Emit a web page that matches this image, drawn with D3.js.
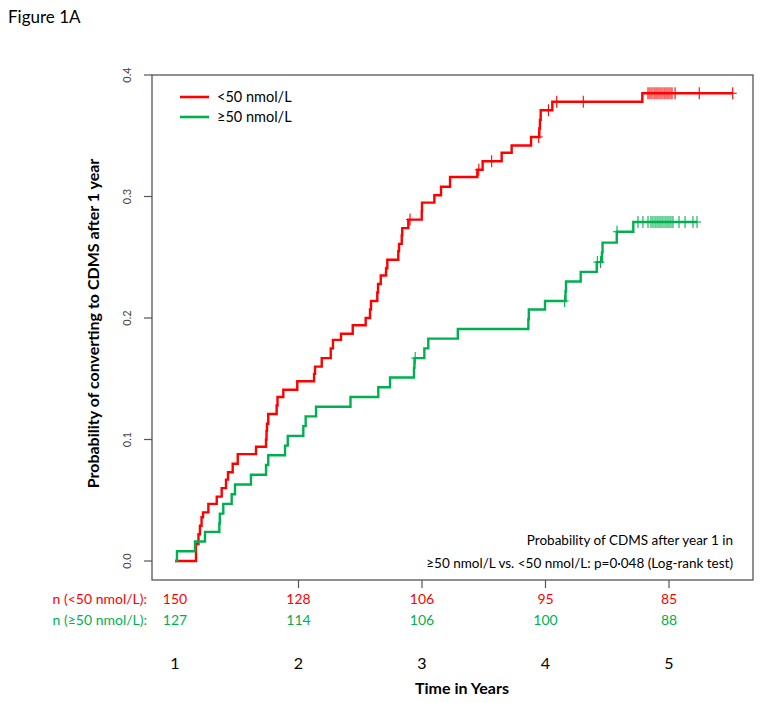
<!DOCTYPE html>
<html>
<head>
<meta charset="utf-8">
<script src="https://cdn.jsdelivr.net/npm/d3@7"></script>
<style>
  body { margin: 0; background: #fff; }
  text { font-family: Lato, "Open Sans", sans-serif; }
</style>
</head>
<body>
<script>
// event times (years) and cumulative probability after each event
var redTimes = [1.170,1.190,1.202,1.215,1.227,1.270,1.338,1.378,1.413,1.429,
  1.467,1.508,1.656,1.737,1.741,1.745,1.755,1.823,1.830,1.877,
  1.990,2.126,2.134,2.188,2.261,2.279,2.344,2.439,2.544,2.579,
  2.587,2.638,2.644,2.666,2.709,2.719,2.808,2.814,2.836,2.840,
  2.889,2.998,3.000,3.100,3.154,3.227,3.448,3.491,3.645,3.726,
  3.883,3.950,3.955,3.961,4.055,4.784];
var redProb = [0.014,0.022,0.029,0.036,0.040,0.047,0.053,0.060,0.067,0.073,
  0.080,0.088,0.094,0.100,0.107,0.113,0.121,0.128,0.135,0.141,
  0.148,0.154,0.160,0.167,0.175,0.182,0.187,0.194,0.200,0.207,
  0.214,0.221,0.228,0.235,0.241,0.248,0.255,0.261,0.268,0.274,
  0.281,0.288,0.295,0.301,0.308,0.316,0.322,0.329,0.336,0.342,
  0.349,0.356,0.363,0.371,0.378,0.385];
var redCensor = [2.903,3.46,3.564,3.945,4.024,4.091,4.306,
  4.830,4.846,4.862,4.879,4.895,4.911,4.927,4.943,4.960,4.976,4.992,5.008,5.024,5.049,
  5.245,5.516];

var greenTimes = [1.016,1.162,1.243,1.359,1.363,1.391,1.459,1.486,1.615,1.737,
  1.755,1.891,1.913,2.039,2.058,2.142,2.421,2.646,2.741,2.935,
  2.939,3.019,3.051,3.290,3.861,3.865,3.996,4.162,4.166,4.285,
  4.415,4.457,4.462,4.577,4.711];
var greenProb = [0.008,0.016,0.024,0.031,0.039,0.047,0.055,0.063,0.071,0.079,
  0.087,0.095,0.103,0.111,0.119,0.127,0.135,0.143,0.151,0.159,
  0.167,0.175,0.183,0.191,0.199,0.207,0.214,0.222,0.230,0.238,
  0.246,0.254,0.262,0.271,0.279];
var greenCensor = [2.945,4.155,4.42,4.445,4.579,
  4.749,4.789,4.830,4.854,4.870,4.887,4.903,4.919,4.935,4.951,4.968,4.984,5.000,5.016,5.032,
  5.081,5.130,5.194,5.227];

var years = [1,2,3,4,5];
var yTicks = [0,0.1,0.2,0.3,0.4];
var nRed = [150,128,106,95,85];
var nGreen = [127,114,106,100,88];
var groupNames = ['<50 nmol/L','\u226550 nmol/L'];
var red = '#ff0000', green = '#00b050';

var W = 762, H = 703;
var svg = d3.select('body').append('svg')
  .attr('width', W).attr('height', H);

var x = d3.scaleLinear().domain([1,5]).range([175,669]);
var y = d3.scaleLinear().domain([0,0.4]).range([561,75]);

var box = {left: 152, right: 753, top: y(0.4), bottom: 580};

svg.append('text').attr('x', 8).attr('y', 23)
  .style('font-size', '17px').text('Figure 1A');

// plot frame
svg.append('rect')
  .attr('x', box.left).attr('y', box.top)
  .attr('width', box.right-box.left).attr('height', box.bottom-box.top)
  .attr('fill', 'none').attr('stroke', '#555').attr('stroke-width', 1.3);

// y axis ticks + rotated labels
var yg = svg.append('g');
yg.selectAll('line').data(yTicks).enter().append('line')
  .attr('x1', box.left-8).attr('x2', box.left)
  .attr('y1', function(d){ return y(d); }).attr('y2', function(d){ return y(d); })
  .attr('stroke', '#555').attr('stroke-width', 1.2);
yg.selectAll('text').data(yTicks).enter().append('text')
  .attr('transform', function(d){ return 'translate(131,' + y(d) + ') rotate(-90)'; })
  .attr('text-anchor', 'middle')
  .style('font-size', '11px').style('fill', '#444')
  .text(function(d){ return d.toFixed(1); });

svg.append('text')
  .attr('transform', 'translate(99,' + ((box.top+box.bottom)/2 - 4) + ') rotate(-90)')
  .attr('text-anchor', 'middle')
  .style('font-size', '16px').style('font-weight', 'bold')
  .text('Probability of converting to CDMS after 1 year');

// x ticks (year 1 has none in the original)
svg.selectAll('line.xt').data(years.slice(1)).enter().append('line')
  .attr('class', 'xt')
  .attr('x1', function(d){ return x(d); }).attr('x2', function(d){ return x(d); })
  .attr('y1', box.bottom).attr('y2', box.bottom+8)
  .attr('stroke', '#555').attr('stroke-width', 1.2);

// at-risk table
svg.append('text').attr('x', 147).attr('y', 604).attr('text-anchor', 'end')
  .style('font-size', '14px').style('fill', red).text('n (<50 nmol/L):');
svg.append('text').attr('x', 147).attr('y', 625).attr('text-anchor', 'end')
  .style('font-size', '14px').style('fill', green).text('n (\u226550 nmol/L):');
svg.selectAll('text.nr').data(nRed).enter().append('text')
  .attr('class', 'nr')
  .attr('x', function(d, i){ return x(years[i]); }).attr('y', 604)
  .attr('text-anchor', 'middle').style('font-size', '14px').style('fill', red)
  .text(function(d){ return d; });
svg.selectAll('text.ng').data(nGreen).enter().append('text')
  .attr('class', 'ng')
  .attr('x', function(d, i){ return x(years[i]); }).attr('y', 625)
  .attr('text-anchor', 'middle').style('font-size', '14px').style('fill', green)
  .text(function(d){ return d; });

svg.selectAll('text.yr').data(years).enter().append('text')
  .attr('class', 'yr')
  .attr('x', function(d){ return x(d); }).attr('y', 669)
  .attr('text-anchor', 'middle').style('font-size', '16px')
  .text(function(d){ return d; });
svg.append('text').attr('x', 462).attr('y', 694).attr('text-anchor', 'middle')
  .style('font-size', '16px').style('font-weight', 'bold').text('Time in Years');

// step curves
var line = d3.line()
  .x(function(d){ return x(d[0]); })
  .y(function(d){ return y(d[1]); })
  .curve(d3.curveStepAfter);

function drawGroup(times, probs, cens, col){
  var pts = [[1,0]];
  times.forEach(function(t, i){ pts.push([t, probs[i]]); });
  var last = d3.max(cens);
  pts.push([last, probs[probs.length-1]]);
  svg.append('path').datum(pts)
    .attr('d', line)
    .attr('fill', 'none').attr('stroke', col).attr('stroke-width', 2.4);

  // censor marks
  var levelAt = function(t){
    var p = 0;
    for (var k=0; k<times.length; k++){ if (times[k] <= t) p = probs[k]; }
    return p;
  };
  var g = svg.append('g');
  cens.forEach(function(t){
    var cx = x(t), cy = y(levelAt(t));
    g.append('line').attr('x1', cx).attr('x2', cx).attr('y1', cy-6).attr('y2', cy+6)
      .attr('stroke', col).attr('stroke-width', 1.1);
    g.append('line').attr('x1', cx-4).attr('x2', cx+4).attr('y1', cy).attr('y2', cy)
      .attr('stroke', col).attr('stroke-width', 1.1);
  });
}
drawGroup(redTimes, redProb, redCensor, red);
drawGroup(greenTimes, greenProb, greenCensor, green);

// legend
var lg = svg.append('g');
[red, green].forEach(function(c, i){
  var ly = 97 + i*20;
  lg.append('line').attr('x1', 180).attr('x2', 209).attr('y1', ly).attr('y2', ly)
    .attr('stroke', c).attr('stroke-width', 2.6);
  lg.append('text').attr('x', 217).attr('y', ly+5)
    .style('font-size', '14.5px').text(groupNames[i]);
});

// log-rank note
svg.append('text').attr('x', 733).attr('y', 545).attr('text-anchor', 'end')
  .style('font-size', '13.5px').text('Probability of CDMS after year 1 in');
svg.append('text').attr('x', 733).attr('y', 568).attr('text-anchor', 'end')
  .style('font-size', '13.5px')
  .text('\u226550 nmol/L vs. <50 nmol/L: p=0\u00b7048 (Log-rank test)');
</script>
</body>
</html>
